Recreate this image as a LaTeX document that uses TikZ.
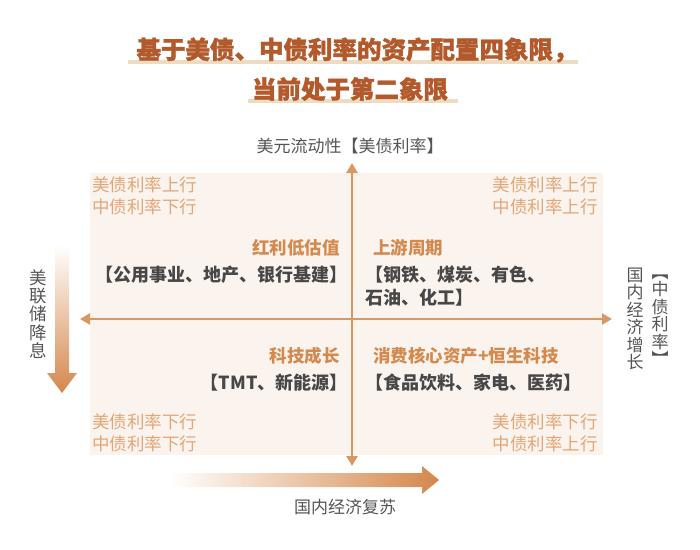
\documentclass[tikz,border=0pt]{standalone}
\usepackage{fontspec}
\setmainfont{Noto Sans CJK SC}
\newfontfamily\titlefont[BoldFeatures={FakeBold=1.5}]{Noto Sans CJK SC}
\usetikzlibrary{arrows.meta}
\definecolor{titlebrown}{HTML}{B35A2C}
\definecolor{titlebar}{HTML}{EFDCC0}
\definecolor{quadbg}{HTML}{FBF4EE}
\definecolor{axisorange}{HTML}{DA9860}
\definecolor{arroworange}{HTML}{D4874C}
\definecolor{sectororange}{HTML}{D4894E}
\definecolor{rateorange}{HTML}{E3A676}
\definecolor{listgray}{HTML}{474747}
\definecolor{labelgray}{HTML}{555555}

\tikzset{
  titletext/.style={text=titlebrown, font=\titlefont\fontsize{24.5}{28}\selectfont\bfseries, inner sep=0pt},
  ratelabel/.style={text=rateorange, font=\fontsize{17.5}{22}\selectfont, inner sep=0pt},
  sectorname/.style={text=sectororange, font=\fontsize{17.5}{21}\selectfont\bfseries, inner sep=0pt},
  sectorlist/.style={text=listgray, font=\fontsize{18}{23}\selectfont\bfseries, inner sep=0pt, align=left},
  axislabel/.style={text=labelgray, font=\fontsize{17}{17.5}\selectfont, inner sep=0pt, align=center},
  axisline/.style={draw=axisorange, line width=2.5pt, {Triangle[length=10pt,width=11pt]}-{Triangle[length=10pt,width=11pt]}},
}

\begin{document}
\begin{tikzpicture}[x=1pt,y=-1pt]
  \useasboundingbox (0,0) rectangle (700,549);

  % Title with underline bars
  \fill[titlebar] (128,60) rectangle (578,64);
  \fill[titlebar] (248,99) rectangle (458,103);
  \node[titletext] (title1) at (357,50) {基于美债、中债利率的资产配置四象限，};
  \node[titletext] (title2) at (350,89) {当前处于第二象限};

  % Quadrant background
  \fill[quadbg] (90,173) rectangle (603,455);

  % Axes
  \coordinate (west) at (80,319);
  \coordinate (east) at (612,319);
  \coordinate (north) at (352,163);
  \coordinate (south) at (352,466);
  \draw[axisline] (west) -- (east);
  \draw[axisline] (north) -- (south);

  % Axis labels
  \node[axislabel] (toplabel) at (350,146) {美元流动性【美债利率】};
  \node[axislabel] (growth) at (635,319) {国\\内\\经\\济\\增\\长};
  \node[axislabel] (cnrate) at (660,320) {︻\\中\\债\\利\\率\\︼};
  \node[axislabel, font=\fontsize{17.5}{18.4}\selectfont] (fedcut) at (38,314) {美\\联\\储\\降\\息};
  \node[axislabel] (recovery) at (345,507) {国内经济复苏};

  % Gradient arrows
  \shade[top color=white, bottom color=arroworange]
    (55,245) -- (69,245) -- (69,373) -- (77,373) -- (62,393) -- (47,373) -- (55,373) -- cycle;
  \shade[left color=white, right color=arroworange]
    (170,473) -- (422,473) -- (422,466) -- (439,480) -- (422,494) -- (422,487) -- (170,487) -- cycle;

  % Rate labels in the corners
  \node[ratelabel, anchor=west, align=left] (ratetl) at (92,196) {美债利率上行\\中债利率下行};
  \node[ratelabel, anchor=east, align=right] (ratetr) at (598,196) {美债利率上行\\中债利率上行};
  \node[ratelabel, anchor=west, align=left] (ratebl) at (92,432.5) {美债利率下行\\中债利率下行};
  \node[ratelabel, anchor=east, align=right] (ratebr) at (598,432.5) {美债利率下行\\中债利率上行};

  % Sectors
  \node[sectorname, anchor=east] (dividend) at (340,248) {红利低估值};
  \node[sectorlist, anchor=east] (dividendlist) at (348,275) {【公用事业、地产、银行基建】};
  \node[sectorname, anchor=west] (upstream) at (373,248) {上游周期};
  \node[sectorlist, anchor=west] (upstreamlist) at (365,286.5) {【钢铁、煤炭、有色、\\石油、化工】};
  \node[sectorname, anchor=east] (techgrowth) at (340,356) {科技成长};
  \node[sectorlist, anchor=east] (techlist) at (348,383) {【TMT、新能源】};
  \node[sectorname, anchor=west] (consumer) at (373,356) {消费核心资产+恒生科技};
  \node[sectorlist, anchor=west] (consumerlist) at (365,383) {【食品饮料、家电、医药】};
\end{tikzpicture}
\end{document}
